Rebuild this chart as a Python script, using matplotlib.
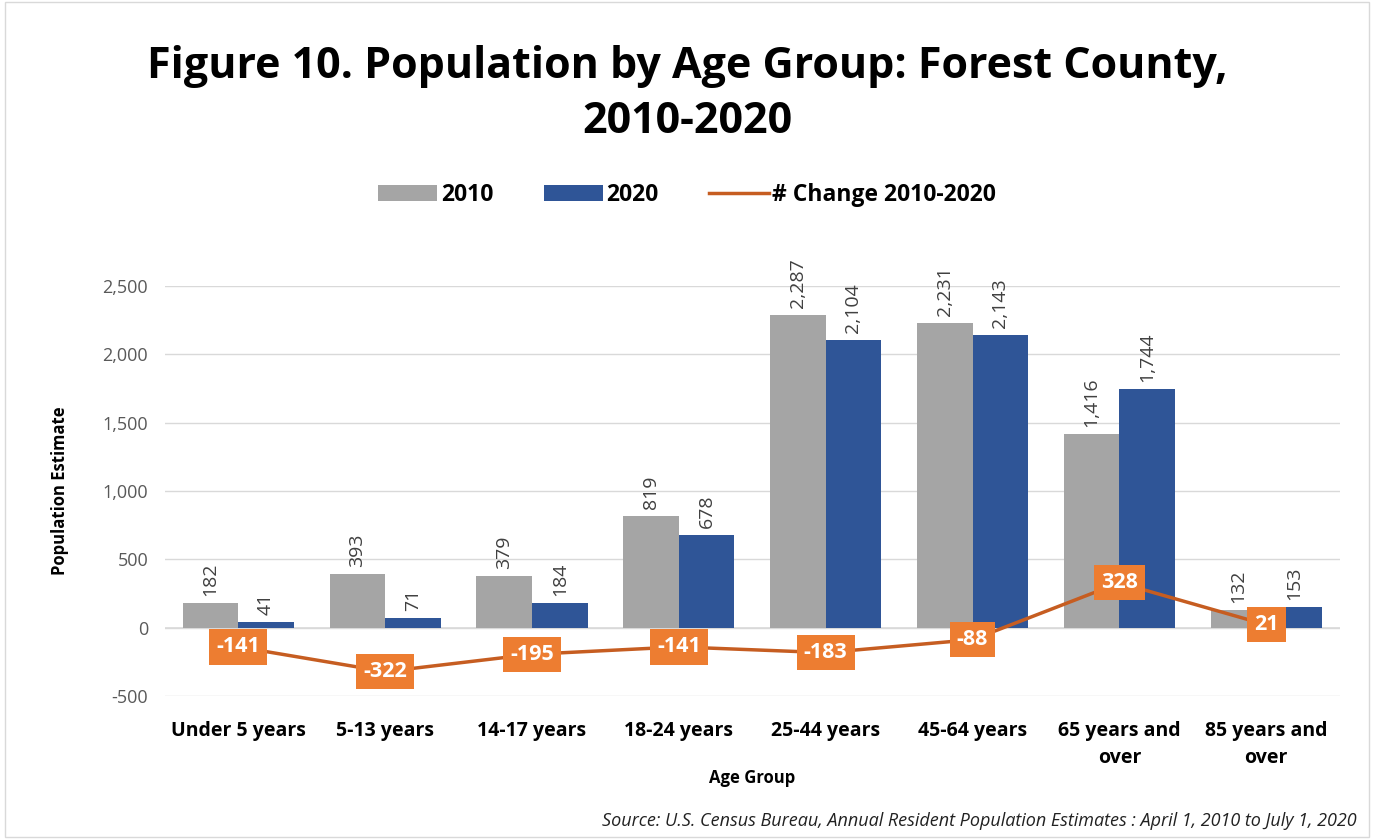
import matplotlib
matplotlib.use("Agg")
import matplotlib.pyplot as plt
import numpy as np
from matplotlib.patches import Rectangle

categories = ["Under 5 years", "5-13 years", "14-17 years", "18-24 years",
              "25-44 years", "45-64 years", "65 years and\nover", "85 years and\nover"]
pop_2010 = [182, 393, 379, 819, 2287, 2231, 1416, 132]
pop_2020 = [41, 71, 184, 678, 2104, 2143, 1744, 153]
change = [-141, -322, -195, -141, -183, -88, 328, 21]
yticks = [-500, 0, 500, 1000, 1500, 2000, 2500]

plt.rcParams['font.family'] = ['Open Sans', 'DejaVu Sans']

fig = plt.figure(figsize=(13.74, 8.39), dpi=100)
ax = fig.add_axes([0.120, 0.1705, 0.855, 0.4885])

x = np.arange(len(categories))
w = 0.378
c2010 = "#A5A5A5"
c2020 = "#2F5597"
cline = "#C65D21"
cbox = "#ED7D31"

b1 = ax.bar(x - w/2, pop_2010, w, color=c2010, label="2010", zorder=2)
b2 = ax.bar(x + w/2, pop_2020, w, color=c2020, label="2020", zorder=2)
ln, = ax.plot(x, change, color=cline, lw=2.5, label="# Change 2010-2020", zorder=3)

for xi, v in zip(x - w/2, pop_2010):
    ax.annotate(f"{v:,}", (xi, v), xytext=(0, 5), textcoords="offset points",
                rotation=90, ha="center", va="bottom", fontsize=14, color="#404040")
for xi, v in zip(x + w/2, pop_2020):
    ax.annotate(f"{v:,}", (xi, v), xytext=(0, 5), textcoords="offset points",
                rotation=90, ha="center", va="bottom", fontsize=14, color="#404040")
for xi, v in zip(x, change):
    ax.text(xi, v, f"{v:,}", ha="center", va="center", fontsize=15.5, fontweight="bold",
            color="white", zorder=5,
            bbox=dict(boxstyle="square,pad=0.33", fc=cbox, ec="none"))

ax.set_xlim(-0.5, len(categories) - 0.5)
ax.set_ylim(-500, 2500)
ax.set_yticks(yticks)
ax.set_yticklabels([f"{t:,}" for t in yticks], fontsize=13, color="#595959")
ax.yaxis.grid(True, color="#D9D9D9", lw=1, zorder=0)
ax.set_axisbelow(True)
ax.tick_params(axis="y", length=0, pad=12)
ax.tick_params(axis="x", length=0, pad=18)
ax.set_xticks(x)
ax.set_xticklabels(categories, fontsize=14, fontweight="bold", color="black",
                   linespacing=1.45)
for s in ax.spines.values():
    s.set_visible(False)
ax.axhline(0, color="#D9D9D9", lw=1.2, zorder=1)

ax.set_ylabel("Population Estimate", fontsize=12, fontweight="bold", labelpad=24)
ax.set_xlabel("Age Group", fontsize=12, fontweight="bold", labelpad=1)

fig.text(0.5, 0.888, "Figure 10. Population by Age Group: Forest County,\n2010-2020",
         ha="center", va="center", fontsize=31, fontweight="bold", linespacing=1.35)

fig.legend(handles=[b1, b2, ln], loc="center", bbox_to_anchor=(0.5, 0.768), ncol=3,
           frameon=False, prop=dict(size=16.5, weight="bold"), handlelength=2.6,
           handletextpad=0.15, columnspacing=2.2)

fig.text(0.987, 0.022, "Source: U.S. Census Bureau, Annual Resident Population Estimates : April 1, 2010 to July 1, 2020",
         ha="right", va="center", fontsize=13, style="italic", color="#222222")

fig.add_artist(Rectangle((0.004, 0.002), 0.992, 0.996, transform=fig.transFigure,
                         fill=False, ec="#D9D9D9", lw=1))

fig.savefig("out.png", dpi=100)
